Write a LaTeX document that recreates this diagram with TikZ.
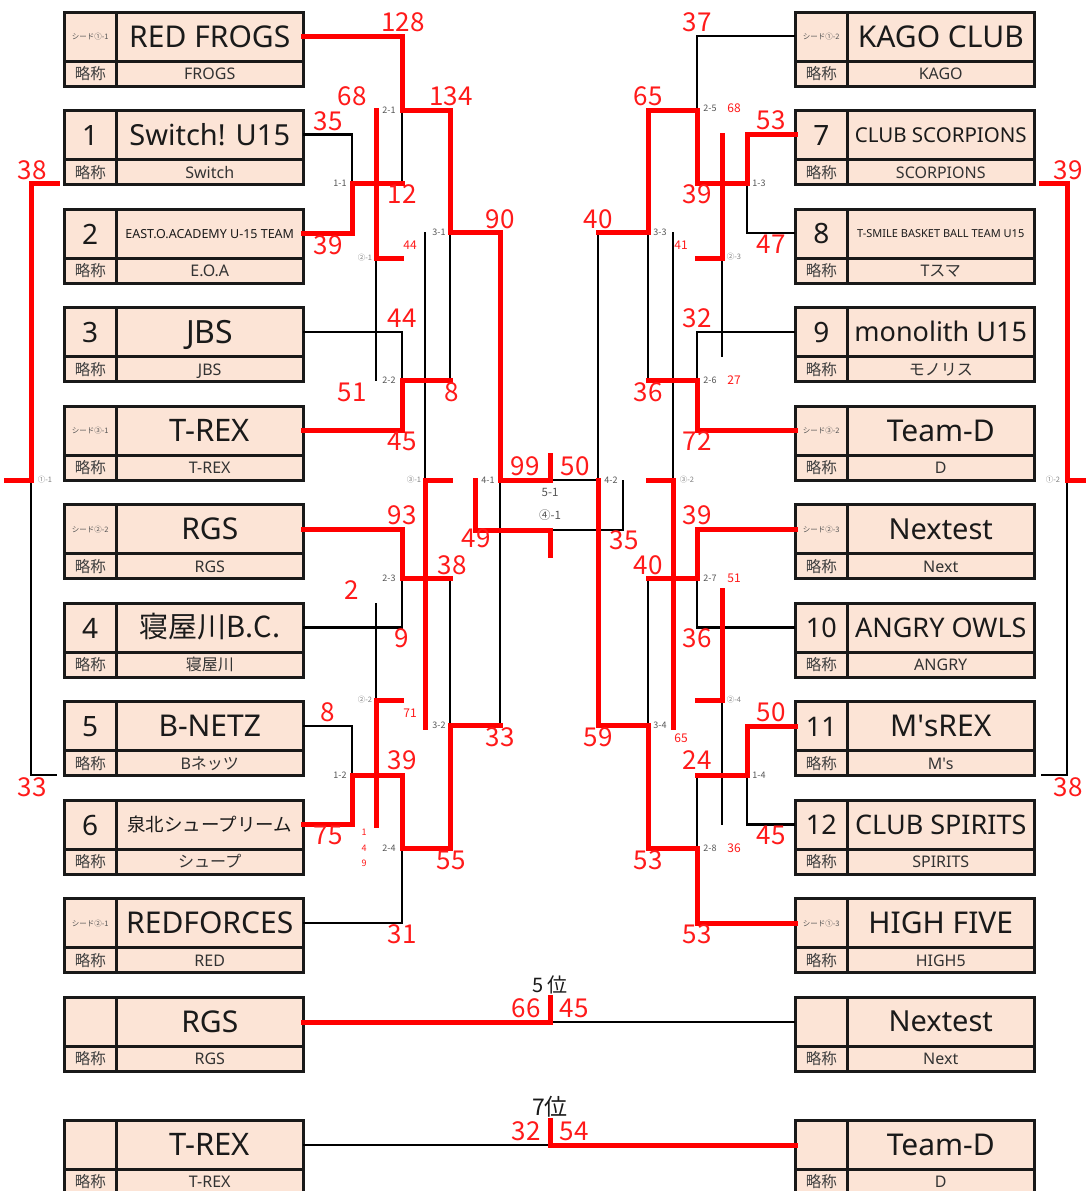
\documentclass[tikz,border=0pt]{standalone}
\usepackage{fontspec}
\setmainfont{Noto Sans}
\newfontfamily\jp{Noto Sans CJK JP}
\newfontfamily\apos{Noto Sans}[Ligatures=TeXOff]
\definecolor{boxfill}{HTML}{FCE4D6}
\definecolor{lblgray}{HTML}{555555}
\definecolor{txtdark}{HTML}{1A1A1A}
\definecolor{scorered}{HTML}{FF1A1A}
\newcommand\fs[1]{\fontsize{#1}{#1}\selectfont}
\newcommand\seedtxt[1]{{\jp\fs{7.5}\color{lblgray}#1}}
\newcommand\cnum[1]{{\fs{28}#1}}
\tikzset{
  boxline/.style={line width=3pt, draw=black!90},
  win/.style={draw=red, line width=5pt, line cap=rect},
  lose/.style={draw=black, line width=2.4pt},
  score/.style={text=scorered, font=\jp\fs{26}, inner sep=0},
  sscore/.style={text=scorered, font=\jp\fs{12}, inner sep=0},
  mlabel/.style={text=lblgray, font=\jp\fs{9}, inner sep=0},
  blabel/.style={text=lblgray, font=\jp\fs{11.5}, inner sep=0},
  clabel/.style={text=gray, font=\jp\fs{7.5}, inner sep=0},
}
\newcommand\teambox[7]{%
  \draw[boxline, fill=boxfill] (#2,#3) rectangle ++(239,74);
  \draw[boxline] (#2,#3+49) -- ++(239,0);
  \draw[boxline] (#2+52.5,#3) -- ++(0,74);
  \node[inner sep=0, text=txtdark] (#1s) at (#2+26.25,#3+25) {#4};
  \node[font=\fs{#5}, anchor=base, inner sep=0, text=txtdark] (#1n) at (#2+145.75,#3+24.5+0.36*#5) {#6};
  \node[font=\jp\fs{15.5}, inner sep=0, text=black!75] (#1r) at (#2+26.25,#3+62) {略称};
  \node[font=\fs{16}, anchor=base, inner sep=0, text=black!80] (#1a) at (#2+145.75,#3+61.8+0.36*16) {#7};
}
\begin{document}
\begin{tikzpicture}[x=1pt,y=-1pt]
\fill[white] (0,0) rectangle (1085,1191);
\useasboundingbox (0,0) rectangle (1085,1191);

% ---------- team boxes ----------
\teambox{La}{64}{12}{\seedtxt{シード①-1}}{30}{RED FROGS}{FROGS}
\teambox{Lb}{64}{110.5}{\cnum{1}}{29}{Switch! U15}{Switch}
\teambox{Lc}{64}{209}{\cnum{2}}{12.5}{EAST.O.ACADEMY U-15 TEAM}{E.O.A}
\teambox{Ld}{64}{307.5}{\cnum{3}}{32}{JBS}{JBS}
\teambox{Le}{64}{406}{\seedtxt{シード③-1}}{31}{T-REX}{T-REX}
\teambox{Lf}{64}{504.5}{\seedtxt{シード②-2}}{30}{RGS}{RGS}
\teambox{Lg}{64}{603}{\cnum{4}}{29}{\jp 寝屋川B.C.}{\jp 寝屋川}
\teambox{Lh}{64}{701.5}{\cnum{5}}{30}{B-NETZ}{B\jp ネッツ}
\teambox{Li}{64}{800}{\cnum{6}}{18.5}{\jp 泉北シュープリーム}{\jp シュープ}
\teambox{Lj}{64}{898.5}{\seedtxt{シード②-1}}{30}{REDFORCES}{RED}
\teambox{Lk}{64}{997}{}{30}{RGS}{RGS}
\teambox{Ll}{64}{1120}{}{31}{T-REX}{T-REX}

\teambox{Ra}{795}{12}{\seedtxt{シード①-2}}{30}{KAGO CLUB}{KAGO}
\teambox{Rb}{795}{110.5}{\cnum{7}}{20.5}{CLUB SCORPIONS}{SCORPIONS}
\teambox{Rc}{795}{209}{\cnum{8}}{11}{T-SMILE BASKET BALL TEAM U15}{T\jp スマ}
\teambox{Rd}{795}{307.5}{\cnum{9}}{27}{monolith U15}{\jp モノリス}
\teambox{Re}{795}{406}{\seedtxt{シード③-2}}{30}{Team-D}{D}
\teambox{Rf}{795}{504.5}{\seedtxt{シード②-3}}{29}{Nextest}{Next}
\teambox{Rg}{795}{603}{{\fs{27}10}}{27}{ANGRY OWLS}{ANGRY}
\teambox{Rh}{795}{701.5}{{\fs{27}11}}{30}{M{\apos'}sREX}{M{\apos'}s}
\teambox{Ri}{795}{800}{{\fs{27}12}}{27}{CLUB SPIRITS}{SPIRITS}
\teambox{Rj}{795}{898.5}{\seedtxt{シード①-3}}{30}{HIGH FIVE}{HIGH5}
\teambox{Rk}{795}{997}{}{29}{Nextest}{Next}
\teambox{Rl}{795}{1120}{}{30}{Team-D}{D}

% ---------- black (losing) lines ----------
\draw[lose] (303,134.5) -- (352,134.5) -- (352,183);
\draw[lose] (402,110) -- (402,183);
\draw[lose] (376,258) -- (376,381);
\draw[lose] (303,332) -- (402,332) -- (402,380);
\draw[lose] (450,232) -- (450,380);
\draw[lose] (425,232) -- (425,480);
\draw[lose] (550,480) -- (598,480);
\draw[lose] (550,530) -- (623,530) -- (623,480);
\draw[lose] (500,480) -- (500,725);
\draw[lose] (303,627.5) -- (402,627.5) -- (402,578);
\draw[lose] (376,603) -- (376,700);
\draw[lose] (450,578) -- (450,725);
\draw[lose] (303,726) -- (352,726) -- (352,775);
\draw[lose] (303,923) -- (402,923) -- (402,848);
\draw[lose] (31,480) -- (31,775) -- (57,775);
\draw[lose] (550,1022) -- (795,1022);
\draw[lose] (303,1145) -- (550,1145);

\draw[lose] (697,110) -- (697,36) -- (795,36);
\draw[lose] (747,183) -- (747,233) -- (795,233);
\draw[lose] (722,258) -- (722,357);
\draw[lose] (598,232) -- (598,480);
\draw[lose] (648,232) -- (648,380);
\draw[lose] (673,232) -- (673,480);
\draw[lose] (697,380) -- (697,332) -- (795,332);
\draw[lose] (697,578) -- (697,627.5) -- (795,627.5);
\draw[lose] (648,578) -- (648,725);
\draw[lose] (722,700) -- (722,825);
\draw[lose] (747,775) -- (747,824.5) -- (795,824.5);
\draw[lose] (697,775) -- (697,848);
\draw[lose] (1067,480) -- (1067,775) -- (1041,775);

% ---------- red (winning) lines ----------
\draw[win] (303,233) -- (352,233) -- (352,183) -- (402,183);
\draw[win] (303,36) -- (402,36) -- (402,110) -- (450,110) -- (450,232) -- (500,232) -- (500,480) -- (550,480);
\draw[win] (550,455) -- (550,480);
\draw[win] (376,110) -- (376,258) -- (401,258);
\draw[win] (303,430.5) -- (402,430.5) -- (402,380) -- (450,380);
\draw[win] (450,480) -- (425,480) -- (425,727);
\draw[win] (475,480) -- (475,530) -- (550,530) -- (550,555);
\draw[win] (303,529) -- (402,529) -- (402,578) -- (450,578);
\draw[win] (401,700) -- (376,700) -- (376,825);
\draw[win] (303,824.5) -- (352,824.5) -- (352,775) -- (402,775) -- (402,848) -- (450,848) -- (450,725) -- (500,725);
\draw[win] (57,183) -- (31,183) -- (31,480) -- (6,480);
\draw[win] (303,1022) -- (550,1022) -- (550,997);
\draw[win] (550,1120) -- (550,1145) -- (795,1145);

\draw[win] (598,232) -- (648,232) -- (648,110) -- (697,110) -- (697,183) -- (747,183) -- (747,134.5) -- (795,134.5);
\draw[win] (697,258) -- (722,258) -- (722,135);
\draw[win] (648,380) -- (697,380) -- (697,430.5) -- (795,430.5);
\draw[win] (648,480) -- (673,480) -- (673,727);
\draw[win] (648,578) -- (697,578) -- (697,529) -- (795,529);
\draw[win] (697,700) -- (722,700) -- (722,590);
\draw[win] (697,775) -- (747,775) -- (747,726) -- (795,726);
\draw[win] (598,480) -- (598,725) -- (648,725) -- (648,848) -- (697,848) -- (697,923) -- (795,923);
\draw[win] (1041,183) -- (1067,183) -- (1067,480) -- (1085,480);

% ---------- scores ----------
\node[score] (sa1) at (403,22) {128};
\node[score] (sa2) at (352,96) {68};
\node[score] (sa3) at (451,96) {134};
\node[score] (sa4) at (328,121) {35};
\node[score] (sa5) at (402,194) {12};
\node[score] (sa6) at (500,219) {90};
\node[score] (sa7) at (328,245) {39};
\node[score] (sa8) at (402,318) {44};
\node[score] (sa9) at (352,392) {51};
\node[score] (sa10) at (452,392) {8};
\node[score] (sa11) at (402,441) {45};
\node[score] (sa12) at (525,466) {99};
\node[score] (sa13) at (575,466) {50};
\node[score] (sa14) at (476,538) {49};
\node[score] (sa15) at (624,540) {35};
\node[score] (sa16) at (402,515) {93};
\node[score] (sa17) at (452,565) {38};
\node[score] (sa18) at (352,590) {2};
\node[score] (sa19) at (402,638) {9};
\node[score] (sa20) at (500,737) {33};
\node[score] (sa21) at (328,712) {8};
\node[score] (sa22) at (402,760) {39};
\node[score] (sa23) at (328,835) {75};
\node[score] (sa24) at (451,860) {55};
\node[score] (sa25) at (402,934) {31};
\node[score] (sa26) at (32,170) {38};
\node[score] (sa27) at (32,787) {33};

\node[score] (sb1) at (697,22) {37};
\node[score] (sb2) at (648,96) {65};
\node[score] (sb3) at (771,120) {53};
\node[score] (sb4) at (598,219) {40};
\node[score] (sb5) at (697,194) {39};
\node[score] (sb6) at (771,244) {47};
\node[score] (sb7) at (697,318) {32};
\node[score] (sb8) at (648,392) {36};
\node[score] (sb9) at (697,441) {72};
\node[score] (sb10) at (697,515) {39};
\node[score] (sb11) at (648,565) {40};
\node[score] (sb12) at (697,638) {36};
\node[score] (sb13) at (598,737) {59};
\node[score] (sb14) at (771,712) {50};
\node[score] (sb15) at (697,760) {24};
\node[score] (sb16) at (771,835) {45};
\node[score] (sb17) at (648,860) {53};
\node[score] (sb18) at (697,934) {53};
\node[score] (sb19) at (1068,170) {39};
\node[score] (sb20) at (1068,787) {38};
\node[score] (sc1) at (526,1008) {66};
\node[score] (sc2) at (574,1008) {45};
\node[score] (sc3) at (526,1131) {32};
\node[score] (sc4) at (574,1131) {54};

% small scores
\node[sscore] (ss1) at (410,245) {44};
\node[sscore] (ss2) at (681,245) {41};
\node[sscore] (ss3) at (734,108) {68};
\node[sscore] (ss4) at (734,380) {27};
\node[sscore] (ss5) at (734,578) {51};
\node[sscore] (ss6) at (410,713) {71};
\node[sscore] (ss7) at (681,738) {65};
\node[sscore] (ss8) at (734,848) {36};
\node[sscore, font=\jp\fs{9}] (ss9) at (364,832) {1};
\node[sscore, font=\jp\fs{9}] (ss10) at (364,848) {4};
\node[sscore, font=\jp\fs{9}] (ss11) at (364,863) {9};

% match labels
\node[mlabel] (m1) at (389,110) {2-1};
\node[mlabel] (m2) at (340,183) {1-1};
\node[mlabel] (m3) at (439,232) {3-1};
\node[clabel] (m4) at (365,258) {②-1};
\node[mlabel] (m5) at (389,380) {2-2};
\node[clabel] (m6) at (414,480) {③-1};
\node[mlabel] (m7) at (488,480) {4-1};
\node[blabel] (m8) at (550,492) {5-1};
\node[blabel] (m9) at (550,515) {④-1};
\node[mlabel] (m10) at (389,578) {2-3};
\node[clabel] (m11) at (365,700) {②-2};
\node[mlabel] (m12) at (439,725) {3-2};
\node[mlabel] (m13) at (340,775) {1-2};
\node[mlabel] (m14) at (389,848) {2-4};
\node[mlabel] (m15) at (710,108) {2-5};
\node[mlabel] (m16) at (759,183) {1-3};
\node[mlabel] (m17) at (660,232) {3-3};
\node[clabel] (m18) at (734,257) {②-3};
\node[mlabel] (m19) at (710,380) {2-6};
\node[mlabel] (m20) at (611,480) {4-2};
\node[clabel] (m21) at (687,480) {③-2};
\node[mlabel] (m22) at (710,578) {2-7};
\node[clabel] (m23) at (734,700) {②-4};
\node[mlabel] (m24) at (660,725) {3-4};
\node[mlabel] (m25) at (759,775) {1-4};
\node[mlabel] (m26) at (710,848) {2-8};
\node[clabel] (m27) at (45,480) {①-1};
\node[clabel] (m28) at (1053,480) {①-2};

% placing titles
\node[font=\jp\fs{20}, text=txtdark, inner sep=0] (p5) at (550,985) {5\,位};
\node[font=\jp\fs{23}, text=txtdark, inner sep=0] (p7) at (550,1107) {7位};
\end{tikzpicture}
\end{document}
